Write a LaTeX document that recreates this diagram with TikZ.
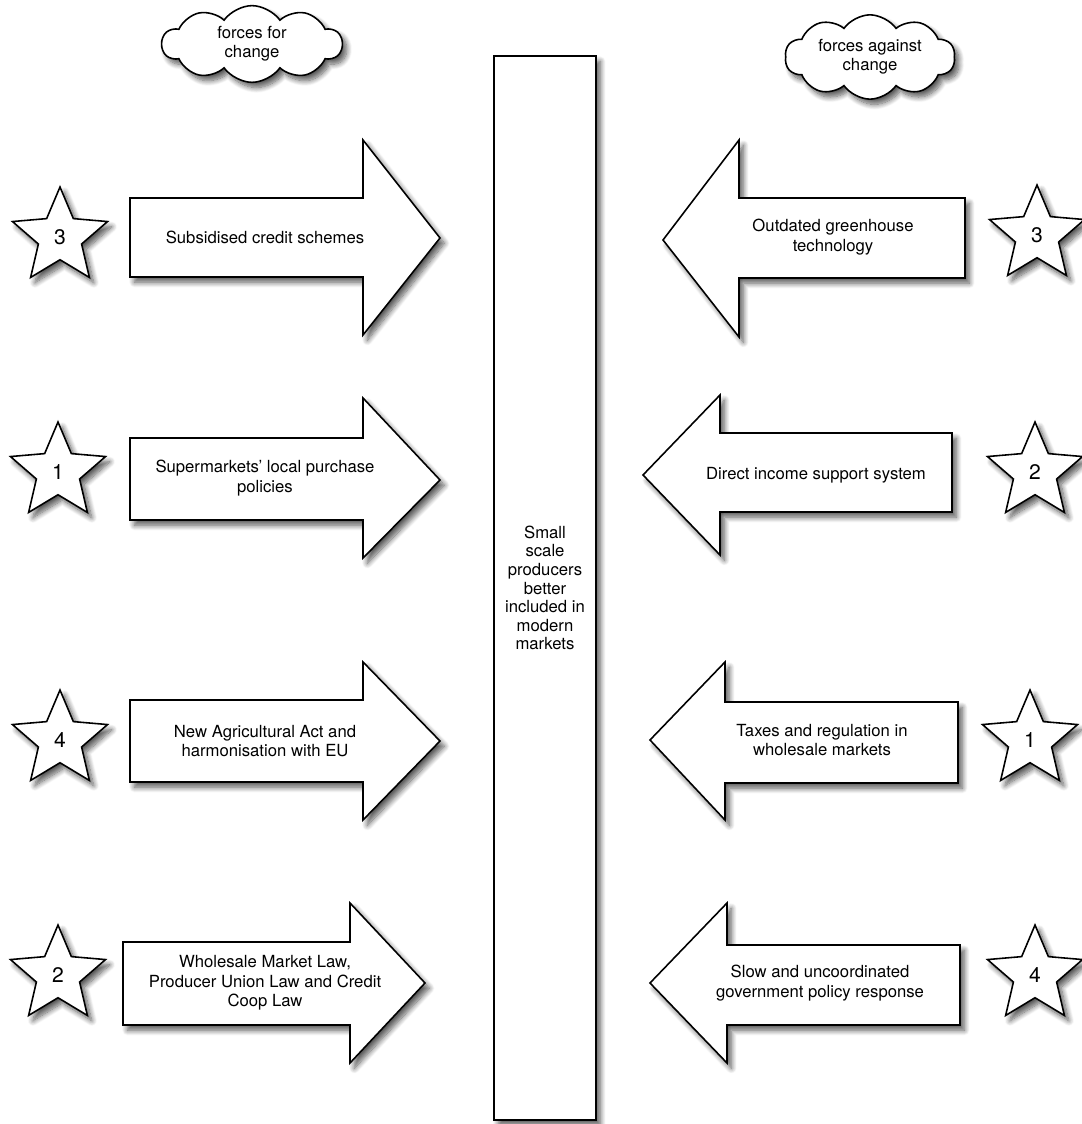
\documentclass[tikz,border=0pt]{standalone}
\usepackage{fontspec}
\setmainfont{TeX Gyre Heros}
\usetikzlibrary{shapes.geometric,shapes.symbols,shadows.blur}

\begin{document}
\begin{tikzpicture}[x=0.02cm, y=-0.02cm,
    softshadow/.style={blur shadow={shadow xshift=2.5pt, shadow yshift=-3pt, shadow blur radius=3pt, shadow blur steps=10, shadow opacity=65}},
    force/.style={draw=black, line width=0.9pt, fill=white, softshadow},
    lbl/.style={align=center, font=\fontsize{9.5}{11}\selectfont, text=black, inner sep=0pt},
    rank/.style={star, star points=5, star point ratio=2.2, minimum size=2cm, inner sep=0pt, draw=black, line width=0.9pt, fill=white, softshadow, font=\fontsize{12}{14}\selectfont},
    bubble/.style={cloud, cloud puffs=10, cloud puff arc=110, cloud ignores aspect=false, draw=black, line width=0.9pt, fill=white, softshadow, align=center, inner sep=1pt, font=\fontsize{9.5}{11}\selectfont}]
  \useasboundingbox (0,0) rectangle (1081,1124);

  % headings
  \node[bubble, aspect=2.8, minimum width=3.6cm, minimum height=1.2cm] (for) at (252,44) {forces for\\change};
  \node[bubble, aspect=2.4, minimum width=3.4cm, minimum height=1.35cm] (against) at (870,57) {forces against\\change};

  % the change itself
  \node[draw=black, line width=0.9pt, fill=white, softshadow, minimum width=2.04cm, minimum height=21.28cm, align=center, font=\fontsize{9.5}{10.6}\selectfont] (goal) at (545,588)
    {Small\\scale\\producers\\better\\included in\\modern\\markets};

  % forces for change
  \draw[force] (130,198) -- (363,198) -- (363,140) -- (440,238) -- (363,335) -- (363,277) -- (130,277) -- cycle;
  \node[lbl] (credit) at (265,237) {Subsidised credit schemes};
  \draw[force] (130,438) -- (363,438) -- (363,398) -- (440,480) -- (363,558) -- (363,520) -- (130,520) -- cycle;
  \node[lbl] (supermkt) at (265,478) {Supermarkets' local purchase\\policies};
  \draw[force] (130,700) -- (363,700) -- (363,662) -- (440,741) -- (363,820) -- (363,782) -- (130,782) -- cycle;
  \node[lbl] (agriact) at (265,741) {New Agricultural Act and\\harmonisation with EU};
  \draw[force] (123,942) -- (350,942) -- (350,903) -- (425,983) -- (350,1063) -- (350,1025) -- (123,1025) -- cycle;
  \node[lbl] (laws) at (265,983) {Wholesale Market Law,\\Producer Union Law and Credit\\Coop Law};

  % forces against change
  \draw[force] (965,198) -- (739,198) -- (739,140) -- (663,240) -- (739,337) -- (739,278) -- (965,278) -- cycle;
  \node[lbl] (greenhs) at (833,237) {Outdated greenhouse\\technology};
  \draw[force] (952,433) -- (720,433) -- (720,395) -- (643,475) -- (720,555) -- (720,512) -- (952,512) -- cycle;
  \node[lbl] (income) at (816,475) {Direct income support system};
  \draw[force] (958,702) -- (725,702) -- (725,662) -- (650,740) -- (725,820) -- (725,783) -- (958,783) -- cycle;
  \node[lbl] (taxes) at (822,740) {Taxes and regulation in\\wholesale markets};
  \draw[force] (960,945) -- (727,945) -- (727,903) -- (650,983) -- (727,1063) -- (727,1025) -- (960,1025) -- cycle;
  \node[lbl] (policy) at (820,983) {Slow and uncoordinated\\government policy response};

  % scores
  \node[rank] (s-credit) at (60,237) {3};
  \node[rank] (s-supermkt) at (58,472) {1};
  \node[rank] (s-agriact) at (60,740) {4};
  \node[rank] (s-laws) at (58,975) {2};
  \node[rank] (s-greenhs) at (1037,235) {3};
  \node[rank] (s-income) at (1035,472) {2};
  \node[rank] (s-taxes) at (1030,740) {1};
  \node[rank] (s-policy) at (1035,975) {4};
\end{tikzpicture}
\end{document}
